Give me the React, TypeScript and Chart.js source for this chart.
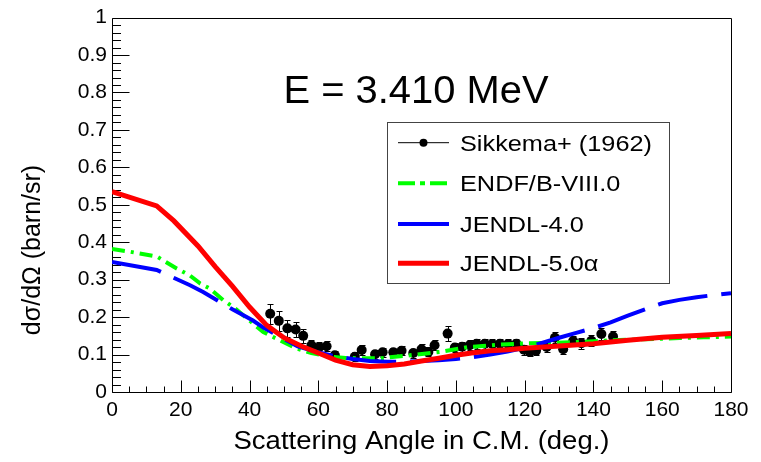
import React, { useEffect, useRef } from "react";
import { Chart, registerables } from "chart.js";
Chart.register(...registerables);

// ---- data ----
const expAngles = [46.0, 48.5, 51.0, 53.4, 55.6, 58.0, 60.3, 62.4, 64.8, 70.6, 72.6, 76.5, 78.7, 81.8, 84.2, 87.6, 90.0, 92.0, 93.8, 97.6, 99.7, 101.8, 104.0, 106.0, 108.4, 110.6, 112.8, 115.2, 117.6, 119.8, 121.5, 123.3, 126.4, 128.8, 131.2, 134.1, 136.5, 139.4, 142.3, 145.7];
const expValues = [0.209, 0.190, 0.170, 0.167, 0.150, 0.125, 0.120, 0.122, 0.098, 0.094, 0.112, 0.101, 0.106, 0.106, 0.110, 0.104, 0.114, 0.107, 0.125, 0.156, 0.119, 0.121, 0.125, 0.129, 0.129, 0.128, 0.129, 0.128, 0.129, 0.113, 0.107, 0.110, 0.120, 0.145, 0.114, 0.136, 0.130, 0.137, 0.155, 0.148];
const expErrors = [0.027, 0.027, 0.022, 0.020, 0.018, 0.013, 0.013, 0.013, 0.012, 0.012, 0.013, 0.012, 0.012, 0.012, 0.012, 0.012, 0.013, 0.012, 0.013, 0.020, 0.013, 0.013, 0.013, 0.013, 0.013, 0.013, 0.013, 0.013, 0.013, 0.013, 0.012, 0.012, 0.013, 0.014, 0.013, 0.014, 0.014, 0.014, 0.015, 0.015];

const endfAngles = [0, 5, 13, 18.8, 22.7, 25.6, 28.5, 32.4, 35.3, 41, 44, 48.8, 53.7, 58, 63.4, 68, 73, 78, 86.6, 95.3, 103.5, 111.8, 120, 128, 136.5, 144.8, 155, 165, 172, 180];
const endfValues = [0.382, 0.375, 0.362, 0.330, 0.311, 0.290, 0.276, 0.245, 0.227, 0.183, 0.160, 0.138, 0.116, 0.104, 0.094, 0.091, 0.090, 0.090, 0.098, 0.107, 0.120, 0.126, 0.130, 0.131, 0.134, 0.138, 0.141, 0.144, 0.146, 0.148];

const jendl4Angles = [0, 13, 22.7, 26.5, 35, 41, 44, 50, 54, 60, 65, 70, 75, 80, 85, 90, 95, 100, 105, 110, 115, 120, 125, 130, 135, 140, 145, 150, 155, 160, 165, 170, 175, 180];
const jendl4Values = [0.347, 0.326, 0.285, 0.267, 0.221, 0.191, 0.172, 0.142, 0.122, 0.106, 0.095, 0.088, 0.083, 0.081, 0.081, 0.083, 0.085, 0.088, 0.093, 0.100, 0.108, 0.118, 0.131, 0.145, 0.158, 0.171, 0.186, 0.204, 0.221, 0.237, 0.246, 0.253, 0.259, 0.264];

const jendl5Angles = [0, 13, 18, 25, 30, 35, 40, 45, 50, 55, 60, 65, 70, 75, 80, 85, 90, 95, 100, 105, 110, 115, 120, 130, 140, 150, 160, 170, 180];
const jendl5Values = [0.535, 0.497, 0.457, 0.390, 0.335, 0.283, 0.227, 0.178, 0.145, 0.123, 0.104, 0.085, 0.073, 0.068, 0.070, 0.075, 0.083, 0.090, 0.098, 0.105, 0.110, 0.113, 0.117, 0.123, 0.129, 0.138, 0.146, 0.151, 0.156];

const xTickValues = [0, 20, 40, 60, 80, 100, 120, 140, 160, 180];
const xTickLabels = ["0", "20", "40", "60", "80", "100", "120", "140", "160", "180"];
const yTickValues = [0, 0.1, 0.2, 0.3, 0.4, 0.5, 0.6, 0.7, 0.8, 0.9, 1];
const yTickLabels = ["0", "0.1", "0.2", "0.3", "0.4", "0.5", "0.6", "0.7", "0.8", "0.9", "1"];

const seriesNames = ["Sikkema+ (1962)", "ENDF/B-VIII.0", "JENDL-4.0", "JENDL-5.0\u03b1"];
const titleText = "E = 3.410 MeV";
const xTitleText = "Scattering Angle in C.M. (deg.)";
const yTitleText = "d\u03c3/d\u03a9 (barn/sr)";

const FONT = "'Liberation Sans', Arial, Helvetica, sans-serif";

function zip(xs: number[], ys: number[]) {
  return xs.map((x, i) => ({ x, y: ys[i] }));
}

function drawText(ctx: CanvasRenderingContext2D, text: string, x: number, y: number, size: number, align: CanvasTextAlign, sx = 1, rot = 0) {
  ctx.save();
  ctx.font = `${size}px ${FONT}`;
  ctx.fillStyle = "#000";
  ctx.textAlign = align;
  ctx.textBaseline = "alphabetic";
  ctx.translate(x, y);
  if (rot) ctx.rotate(rot);
  ctx.scale(sx, 1);
  ctx.fillText(text, 0, 0);
  ctx.restore();
}

function drawFrame(chart: any) {
  const ctx: CanvasRenderingContext2D = chart.ctx;
  const { left, right, top, bottom } = chart.chartArea;
  const xs = chart.scales.x;
  const ys = chart.scales.y;
  ctx.save();
  ctx.setLineDash([]);
  ctx.strokeStyle = "#000";
  ctx.lineWidth = 1;
  const L = Math.round(left) + 0.5;
  const R = Math.round(right) + 0.5;
  const T = Math.round(top) + 0.5;
  const B = Math.round(bottom) + 0.5;
  ctx.beginPath();
  ctx.moveTo(L, T);
  ctx.lineTo(R, T);
  ctx.lineTo(R, B);
  ctx.lineTo(L, B);
  ctx.closePath();
  for (let k = 0; k <= 50; k++) {
    const v = k * 0.02;
    const py = Math.round(ys.getPixelForValue(v)) + 0.5;
    const major = k % 5 === 0;
    ctx.moveTo(L, py);
    ctx.lineTo(L + (major ? 17 : 8.5), py);
  }
  for (let k = 0; k <= 36; k++) {
    const v = k * 5;
    const px = Math.round(xs.getPixelForValue(v)) + 0.5;
    const major = k % 4 === 0;
    ctx.moveTo(px, B);
    ctx.lineTo(px, B - (major ? 12 : 6));
  }
  ctx.stroke();
  ctx.restore();
}

function drawErrorBars(chart: any) {
  const ctx: CanvasRenderingContext2D = chart.ctx;
  const xs = chart.scales.x;
  const ys = chart.scales.y;
  ctx.save();
  ctx.setLineDash([]);
  ctx.strokeStyle = "#000";
  ctx.lineWidth = 1;
  ctx.beginPath();
  expAngles.forEach((a, i) => {
    const px = Math.round(xs.getPixelForValue(a)) + 0.5;
    const y1 = Math.round(ys.getPixelForValue(expValues[i] + expErrors[i])) + 0.5;
    const y2 = Math.round(ys.getPixelForValue(expValues[i] - expErrors[i])) + 0.5;
    ctx.moveTo(px, y1);
    ctx.lineTo(px, y2);
    ctx.moveTo(px - 3, y1);
    ctx.lineTo(px + 3, y1);
    ctx.moveTo(px - 3, y2);
    ctx.lineTo(px + 3, y2);
  });
  ctx.stroke();
  ctx.restore();
}

const decorPlugin = {
  id: "decor",
  beforeDatasetDraw(chart: any, args: any) {
    if (args.index !== 3) return;
    drawFrame(chart);
    drawErrorBars(chart);
  },
  afterDraw(chart: any) {
    const ctx: CanvasRenderingContext2D = chart.ctx;
    const { left, right } = chart.chartArea;
    // title
    drawText(ctx, titleText, 416, 103, 38, "center", 1.05);
    // axis titles
    drawText(ctx, xTitleText, (left + right) / 2, 449, 25, "center", 1.1);
    drawText(ctx, yTitleText, 40, 250, 25, "center", 1.0, -Math.PI / 2);
    // legend
    const bx = 387, by = 122, bw = 282, bh = 161;
    ctx.save();
    ctx.fillStyle = "#fff";
    ctx.fillRect(bx, by, bw, bh);
    ctx.strokeStyle = "#444";
    ctx.lineWidth = 1;
    ctx.strokeRect(bx + 0.5, by + 0.5, bw, bh);
    const rows = [142.7, 183.3, 224, 263.3];
    const lx1 = 398, lx2 = 449;
    ctx.strokeStyle = "#000";
    ctx.lineWidth = 1;
    ctx.beginPath();
    ctx.moveTo(lx1, rows[0]);
    ctx.lineTo(lx2, rows[0]);
    ctx.stroke();
    ctx.fillStyle = "#000";
    ctx.beginPath();
    ctx.arc((lx1 + lx2) / 2, rows[0], 4, 0, Math.PI * 2);
    ctx.fill();
    ctx.strokeStyle = "#00ff00";
    ctx.lineWidth = 4;
    ctx.setLineDash([17, 5, 5, 5]);
    ctx.beginPath();
    ctx.moveTo(lx1, rows[1]);
    ctx.lineTo(lx2, rows[1]);
    ctx.stroke();
    ctx.setLineDash([]);
    ctx.strokeStyle = "#0000ff";
    ctx.lineWidth = 4;
    ctx.beginPath();
    ctx.moveTo(lx1, rows[2]);
    ctx.lineTo(lx2, rows[2]);
    ctx.stroke();
    ctx.strokeStyle = "#ff0000";
    ctx.lineWidth = 5;
    ctx.beginPath();
    ctx.moveTo(lx1, rows[3]);
    ctx.lineTo(lx2, rows[3]);
    ctx.stroke();
    ctx.restore();
    seriesNames.forEach((n, i) => {
      drawText(ctx, n, 460, rows[i] + 8, 22, "left", 1.15);
    });
  },
};

export default function App() {
  const ref = useRef<HTMLCanvasElement | null>(null);
  useEffect(() => {
    if (!ref.current) return;
    const chart = new Chart(ref.current, {
      type: "scatter",
      data: {
        datasets: [
          {
            label: seriesNames[3],
            data: zip(jendl5Angles, jendl5Values),
            showLine: true,
            borderColor: "#ff0000",
            backgroundColor: "#ff0000",
            borderWidth: 5,
            pointRadius: 0,
            order: 0,
          },
          {
            label: seriesNames[2],
            data: zip(jendl4Angles, jendl4Values),
            showLine: true,
            borderColor: "#0000ff",
            backgroundColor: "#0000ff",
            borderWidth: 4,
            borderDash: [50, 14],
            pointRadius: 0,
            order: 1,
          },
          {
            label: seriesNames[1],
            data: zip(endfAngles, endfValues),
            showLine: true,
            borderColor: "#00ff00",
            backgroundColor: "#00ff00",
            borderWidth: 4,
            borderDash: [13, 6, 3, 6],
            pointRadius: 0,
            order: 2,
          },
          {
            label: seriesNames[0],
            data: zip(expAngles, expValues),
            showLine: false,
            borderColor: "#000",
            backgroundColor: "#000",
            pointRadius: 5,
            pointBorderWidth: 0,
            order: 3,
          },
        ],
      },
      options: {
        animation: false,
        responsive: false,
        devicePixelRatio: 1,
        layout: { padding: { left: 0, right: 30, top: 15, bottom: 0 } },
        plugins: { legend: { display: false }, tooltip: { enabled: false }, title: { display: false } },
        scales: {
          x: {
            type: "linear",
            min: 0,
            max: 180,
            afterBuildTicks: (s: any) => {
              s.ticks = xTickValues.map((v) => ({ value: v }));
            },
            afterFit: (s: any) => {
              s.height = 70;
            },
            ticks: {
              autoSkip: false,
              maxRotation: 0,
              padding: 6,
              color: "#000",
              font: { family: FONT, size: 21 },
              callback: (_v: any, i: number) => xTickLabels[i],
            },
            grid: { display: false, drawTicks: false },
            border: { display: false },
          },
          y: {
            type: "linear",
            min: 0,
            max: 1,
            afterBuildTicks: (s: any) => {
              s.ticks = yTickValues.map((v) => ({ value: v }));
            },
            afterFit: (s: any) => {
              s.width = 112;
            },
            ticks: {
              autoSkip: false,
              padding: 5,
              color: "#000",
              font: { family: FONT, size: 21 },
              callback: (_v: any, i: number) => yTickLabels[i],
            },
            grid: { display: false, drawTicks: false },
            border: { display: false },
          },
        },
      } as any,
      plugins: [decorPlugin],
    });
    return () => chart.destroy();
  }, []);
  return (
    <div style={{ position: "absolute", left: 0, top: 0, width: 761, height: 462, background: "#fff" }}>
      <canvas ref={ref} width={761} height={462} style={{ width: 761, height: 462 }} />
    </div>
  );
}
